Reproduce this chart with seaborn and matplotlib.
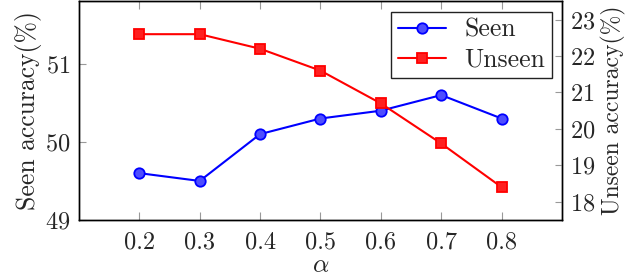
import numpy as np
import pandas as pd
import matplotlib
matplotlib.use("Agg")
import matplotlib.pyplot as plt
import seaborn as sns

# data
alpha = [0.2, 0.3, 0.4, 0.5, 0.6, 0.7, 0.8]
seen = [49.6, 49.5, 50.1, 50.3, 50.4, 50.6, 50.3]
unseen = [22.6, 22.6, 22.2, 21.6, 20.7, 19.6, 18.4]
x_ticks = [0.2, 0.3, 0.4, 0.5, 0.6, 0.7, 0.8]
left_ticks = [49, 50, 51]
right_ticks = [18, 19, 20, 21, 22, 23]

df = pd.DataFrame({"alpha": alpha, "seen": seen, "unseen": unseen})

sns.set_style("ticks")
plt.rcParams["font.family"] = ["cmr10", "DejaVu Serif"]
plt.rcParams["mathtext.fontset"] = "cm"
plt.rcParams["axes.formatter.use_mathtext"] = True
plt.rcParams["axes.linewidth"] = 1.0
fs_tick = 17.5
fs_lab = 18.5

fig = plt.figure(figsize=(6.4, 2.79), dpi=100)
ax = fig.add_axes([0.1234, 0.2115, 0.7547, 0.7835])
ax2 = ax.twinx()

sns.lineplot(data=df, x="alpha", y="seen", ax=ax, color="blue", lw=1.5,
             marker="o", markersize=7.5, markerfacecolor="#4d4dff",
             markeredgecolor="blue", markeredgewidth=1.3, label="Seen", legend=False)
sns.lineplot(data=df, x="alpha", y="unseen", ax=ax2, color="red", lw=1.5,
             marker="s", markersize=7.5, markerfacecolor="#ff2020",
             markeredgecolor="red", markeredgewidth=1.3, label="Unseen", legend=False)

ax.set_xlim(0.1, 0.9)
ax.set_ylim(49, 51.8)
ax2.set_ylim(17.5, 23.5)
ax.set_xticks(x_ticks)
ax.set_xticklabels([f"{v:.1f}" for v in x_ticks])
ax.set_yticks(left_ticks)
ax2.set_yticks(right_ticks)

ax.tick_params(axis="x", direction="in", top=True, bottom=True, length=6,
               color="#999999", labelsize=fs_tick, pad=8)
ax.tick_params(axis="y", direction="in", left=True, right=False, length=5,
               color="#999999", labelsize=fs_tick, pad=6)
ax2.tick_params(axis="y", direction="in", right=True, length=5,
                color="#999999", labelsize=fs_tick, pad=6)

ax.set_xlabel(r"$\alpha$", fontsize=fs_lab, labelpad=0)
ax.set_ylabel("Seen accuracy(%)", fontsize=fs_lab, labelpad=2)
ax2.set_ylabel("Unseen accuracy(%)", fontsize=17, labelpad=4)

for a in (ax, ax2):
    for s in a.spines.values():
        s.set_visible(True)
        s.set_color("black")

h1, l1 = ax.get_legend_handles_labels()
h2, l2 = ax2.get_legend_handles_labels()
leg = ax2.legend(h1 + h2, l1 + l2, loc="upper right", fontsize=fs_lab,
                 frameon=True, fancybox=False, edgecolor="#222222",
                 framealpha=1, borderpad=0.25, labelspacing=0.25,
                 handlelength=1.9, handletextpad=0.7, borderaxespad=0.4)
leg.get_frame().set_linewidth(1.0)

fig.savefig("out.png", dpi=100)
